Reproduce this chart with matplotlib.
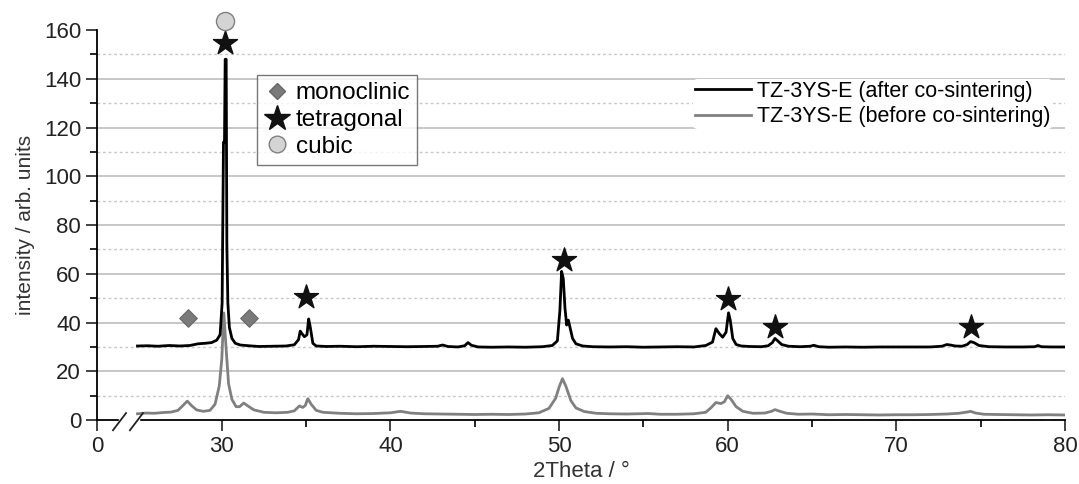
import numpy as np
from matplotlib import pyplot as plt
from matplotlib.lines import Line2D

plt.rcParams['font.family'] = ['Liberation Sans', 'DejaVu Sans']

# black curve: TZ-3YS-E after co-sintering
tt_after = [25.0, 25.6, 26.2, 26.9, 27.5, 28.1, 28.6, 29.0, 29.4, 29.7, 29.9, 30.02, 30.1,
            30.16, 30.2, 30.26, 30.3, 30.36, 30.45, 30.6, 30.8, 31.1, 31.6, 32.2, 33.0,
            33.8, 34.3, 34.55, 34.65, 34.75, 34.9, 35.05, 35.15, 35.25, 35.4, 35.6, 36.2,
            37.0, 38.0, 39.0, 40.0, 41.0, 42.0, 42.8, 43.1, 43.4, 44.0, 44.4, 44.6, 44.8,
            45.2, 46.0, 47.0, 48.0, 49.0, 49.6, 49.9, 50.05, 50.15, 50.25, 50.35, 50.45,
            50.55, 50.65, 50.8, 51.0, 51.4, 52.0, 53.0, 54.0, 55.0, 56.0, 57.0, 58.0, 58.7,
            59.1, 59.3, 59.5, 59.7, 59.9, 60.05, 60.15, 60.3, 60.5, 60.8, 61.3, 62.0, 62.4,
            62.65, 62.8, 62.95, 63.2, 63.6, 64.3, 64.9, 65.1, 65.4, 66.0, 67.0, 68.0, 69.0,
            70.0, 71.0, 72.0, 72.7, 73.0, 73.2, 73.5, 73.9, 74.2, 74.4, 74.6, 74.9, 75.5,
            76.5, 77.5, 78.2, 78.4, 78.6, 79.2, 80.0]
i_after = [30.4, 30.5, 30.3, 30.6, 30.4, 30.6, 31.3, 31.5, 31.8, 32.8, 35.0, 48.0, 114.0,
           114.0, 148.0, 148.0, 72.0, 48.0, 38.0, 33.5, 31.5, 30.8, 30.5, 30.2, 30.3,
           30.4, 30.9, 33.0, 36.5, 35.5, 34.2, 35.0, 41.5, 38.0, 31.5, 30.4, 30.2,
           30.3, 30.1, 30.3, 30.2, 30.1, 30.2, 30.3, 30.8, 30.2, 30.0, 30.5, 31.8, 30.7,
           30.0, 29.9, 30.0, 29.9, 30.1, 30.6, 32.5, 45.0, 61.0, 58.0, 46.0, 39.0,
           41.0, 38.0, 33.5, 31.3, 30.4, 30.1, 30.0, 30.1, 29.9, 30.0, 30.1, 30.0, 30.6,
           32.0, 37.5, 35.5, 34.0, 36.0, 44.0, 41.0, 33.5, 31.0, 30.4, 30.2, 30.1, 30.5,
           31.8, 33.5, 32.6, 31.0, 30.3, 30.1, 30.3, 30.7, 30.1, 29.9, 30.0, 29.9, 30.0,
           30.0, 30.0, 30.0, 30.3, 31.0, 30.8, 30.4, 30.3, 31.0, 32.2, 31.8, 30.6, 30.1,
           30.0, 30.0, 30.1, 30.6, 30.1, 30.0, 30.0]

# gray curve: TZ-3YS-E before co-sintering
tt_before = [25.0, 25.5, 26.0, 26.5, 27.0, 27.4, 27.7, 27.95, 28.2, 28.5, 28.9, 29.3, 29.6,
             29.85, 30.0, 30.12, 30.25, 30.4, 30.6, 30.85, 31.05, 31.3, 31.55, 31.9, 32.5,
             33.2, 33.9, 34.3, 34.6, 34.8, 34.95, 35.1, 35.3, 35.6, 36.0, 37.0, 38.0, 39.0,
             40.0, 40.6, 41.2, 42.0, 43.0, 44.0, 45.0, 46.0, 47.0, 48.0, 48.8, 49.4, 49.8,
             50.0, 50.2, 50.4, 50.7, 51.0, 51.5, 52.2, 53.0, 54.0, 55.3, 56.0, 57.0, 58.0,
             58.7, 59.0, 59.3, 59.6, 59.8, 60.0, 60.2, 60.5, 60.9, 61.5, 62.2, 62.6, 62.8,
             63.1, 63.5, 64.2, 65.0, 66.0, 67.0, 68.0, 69.0, 70.0, 71.0, 72.0, 73.0, 73.7,
             74.2, 74.4, 74.7, 75.2, 76.0, 77.0, 78.0, 79.0, 80.0]
i_before = [2.6, 2.9, 2.8, 3.1, 3.3, 4.0, 6.0, 7.8, 6.0, 4.2, 3.6, 4.0, 6.5,
            14.0, 25.0, 44.0, 30.0, 15.0, 8.5, 5.5, 5.5, 7.0, 5.8, 4.2, 3.2,
            3.0, 3.2, 3.8, 5.8, 5.2, 6.0, 8.8, 6.5, 4.0, 3.2, 2.8, 2.6, 2.7,
            3.0, 3.6, 2.9, 2.6, 2.5, 2.4, 2.3, 2.4, 2.3, 2.5, 3.0, 4.8, 9.0,
            13.5, 17.0, 14.0, 8.0, 5.0, 3.5, 2.8, 2.6, 2.5, 2.7, 2.4, 2.4, 2.6,
            3.2, 5.0, 7.2, 6.8, 7.5, 10.0, 8.5, 5.5, 3.6, 2.8, 2.9, 3.6, 4.3,
            3.6, 2.8, 2.4, 2.5, 2.2, 2.3, 2.2, 2.1, 2.2, 2.2, 2.3, 2.5, 2.8,
            3.3, 3.6, 2.9, 2.4, 2.3, 2.2, 2.1, 2.2, 2.1]

# phase markers
mono_x = [28.0, 31.6]
mono_y = [42.0, 42.0]
tet_x = [30.2, 35.0, 50.3, 60.0, 62.8, 74.4]
tet_y = [154.5, 50.5, 65.5, 49.5, 38.0, 38.0]
cub_x = [30.2]
cub_y = [163.5]

x_ticks = [30, 40, 50, 60, 70, 80]
x_zero = 22.6  # position where the broken axis shows "0"

fig = plt.figure(figsize=(10.79, 4.84), dpi=100)
ax = fig.add_axes([0.0899, 0.132, 0.8971, 0.806])

ax.plot(tt_before, i_before, color='#808080', lw=2.0, zorder=3)
ax.plot(tt_after, i_after, color='black', lw=2.0, zorder=4)

ax.scatter(mono_x, mono_y, marker='D', s=80, color='#7a7a7a', edgecolors='#666666',
           linewidths=0.8, zorder=5, clip_on=False)
ax.scatter(tet_x, tet_y, marker='*', s=330, color='#111111', zorder=5, clip_on=False)
ax.scatter(cub_x, cub_y, marker='o', s=170, color='#d4d4d4', edgecolors='#808080',
           linewidths=1.0, zorder=5, clip_on=False)

ax.set_xlim(x_zero, 80)
ax.set_ylim(0, 160)
ax.set_xticks([x_zero] + x_ticks)
ax.set_xticklabels(['0'] + [str(t) for t in x_ticks])
ax.set_xticks([35, 45, 55, 65, 75], minor=True)
ax.set_yticks(np.arange(0, 161, 20))
ax.set_yticks(np.arange(10, 160, 20), minor=True)
ax.tick_params(which='major', length=8, width=1.2, labelsize=16, colors='#222222')
ax.tick_params(which='minor', length=5, width=1.2)

for v in np.arange(20, 141, 20):
    ax.axhline(v, color='#bdbdbd', lw=1.2, zorder=1)
for v in np.arange(10, 160, 20):
    ax.axhline(v, color='#c8c8c8', lw=1.0, ls=(0, (2, 2)), zorder=1)

for s in ['top', 'right']:
    ax.spines[s].set_visible(False)
for s in ['left', 'bottom']:
    ax.spines[s].set_linewidth(1.3)

ax.set_xlabel('2Theta / °', fontsize=16, color='#333333', labelpad=3)
ax.set_ylabel('intensity / arb. units', fontsize=15, color='#333333', labelpad=6)

# axis break
ax.fill_between([0.0225, 0.043], -0.01, 0.01, color='white', transform=ax.transAxes,
                clip_on=False, zorder=6)
for x0 in [0.0165, 0.034]:
    ax.plot([x0, x0 + 0.0135], [-0.026, 0.018], color='#222222', lw=1.3,
            transform=ax.transAxes, clip_on=False, zorder=7)

# legends
h_phase = [Line2D([], [], ls='none', marker='D', ms=8, mfc='#7a7a7a', mec='#666666'),
           Line2D([], [], ls='none', marker='*', ms=19, mfc='#111111', mec='#111111'),
           Line2D([], [], ls='none', marker='o', ms=12, mfc='#d4d4d4', mec='#808080')]
leg1 = ax.legend(h_phase, ['monoclinic', 'tetragonal', 'cubic'], loc='upper left',
                 bbox_to_anchor=(0.165, 0.885), fontsize=17.5, frameon=True, fancybox=False,
                 edgecolor='#555555', handletextpad=0.2, handlelength=1.1,
                 borderpad=0.3, labelspacing=0.2, borderaxespad=0)
leg1.get_frame().set_linewidth(1.0)
ax.add_artist(leg1)

h_curve = [Line2D([], [], color='black', lw=2.0), Line2D([], [], color='#808080', lw=2.0)]
leg2 = ax.legend(h_curve, ['TZ-3YS-E (after co-sintering)', 'TZ-3YS-E (before co-sintering)'],
                 loc='upper left', bbox_to_anchor=(0.616, 0.875), fontsize=15.5, frameon=True,
                 edgecolor='none', facecolor='white', framealpha=1.0, handlelength=2.6,
                 handletextpad=0.25, labelspacing=0.2, borderpad=0.1, borderaxespad=0)

plt.savefig('out.png', dpi=100)
